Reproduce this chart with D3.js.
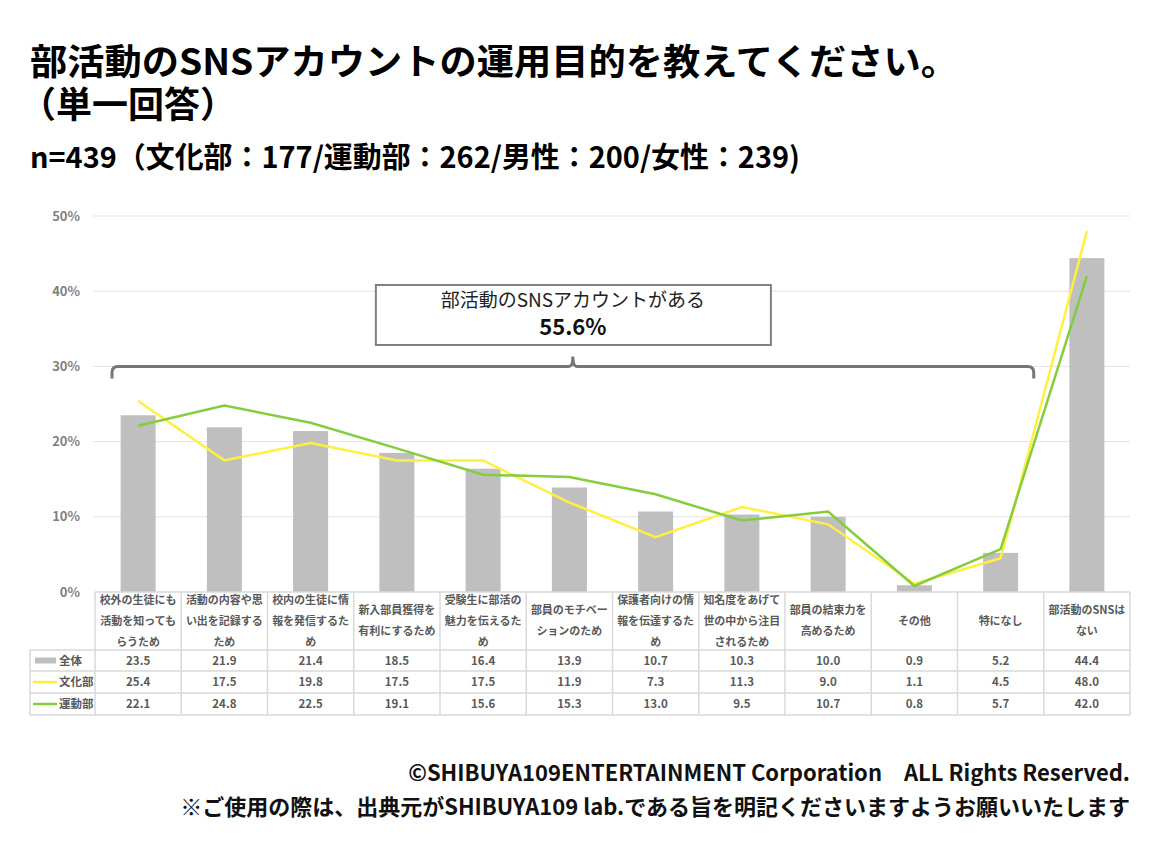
<!DOCTYPE html>
<html><head><meta charset="utf-8">
<script src="https://cdn.jsdelivr.net/npm/d3@7"></script>
<style>
html,body{margin:0;padding:0;background:#fff;}
svg{display:block;font-family:"Noto Sans CJK JP","Noto Sans",sans-serif;}
</style></head>
<body><svg id="c" width="1160" height="860"></svg>
<script>
const categories = [
  ["校外の生徒にも","活動を知っても","らうため"],
  ["活動の内容や思","い出を記録する","ため"],
  ["校内の生徒に情","報を発信するた","め"],
  ["新入部員獲得を","有利にするため"],
  ["受験生に部活の","魅力を伝えるた","め"],
  ["部員のモチベー","ションのため"],
  ["保護者向けの情","報を伝達するた","め"],
  ["知名度をあげて","世の中から注目","されるため"],
  ["部員の結束力を","高めるため"],
  ["その他"],
  ["特になし"],
  ["部活動のSNSは","ない"]
];
const seriesNames = ["全体","文化部","運動部"];
const totalValues = [23.5,21.9,21.4,18.5,16.4,13.9,10.7,10.3,10.0,0.9,5.2,44.4];
const cultureValues = [25.4,17.5,19.8,17.5,17.5,11.9,7.3,11.3,9.0,1.1,4.5,48.0];
const sportsValues = [22.1,24.8,22.5,19.1,15.6,15.3,13.0,9.5,10.7,0.8,5.7,42.0];
const yTicks = [0,10,20,30,40,50];
const bracketValue = 30;
const bracketLabel = "部活動のSNSアカウントがある";
const bracketTotal = "55.6%";

const svg = d3.select("#c");
const x = d3.scaleBand().domain(d3.range(categories.length)).range([95,1130]);
const y = d3.scaleLinear().domain([0,50]).range([592,216]);

// titles (two lines in one text element)
const title = svg.append("text").attr("font-size",36).attr("font-weight","bold").attr("fill","#000");
title.append("tspan").attr("x",30).attr("y",75)
  .attr("textLength",928).attr("lengthAdjust","spacingAndGlyphs")
  .text("部活動のSNSアカウントの運用目的を教えてください。");
title.append("tspan").attr("x",20).attr("y",118).text("（単一回答）");
svg.append("text").attr("x",30).attr("y",168).attr("font-size",29).attr("font-weight","bold").attr("fill","#000")
  .attr("textLength",770).attr("lengthAdjust","spacingAndGlyphs")
  .text("n=439（文化部：177/運動部：262/男性：200/女性：239)");

// grid
const gridG = svg.append("g");
gridG.selectAll("line").data(yTicks.filter(d=>d>0)).join("line")
  .attr("x1",93).attr("x2",1130).attr("y1",d=>y(d)).attr("y2",d=>y(d))
  .attr("stroke","#e3e3e3").attr("stroke-width",1);
// y axis labels
const yAxis = d3.axisLeft(y).tickValues(yTicks).tickFormat(d=>d+"%").tickSize(0).tickPadding(0);
const ya = svg.append("g").attr("transform","translate(80,0)").call(yAxis);
ya.select(".domain").remove();
ya.selectAll("text").attr("font-size",13).attr("font-weight","bold").attr("fill","#7f7f7f")
  .attr("font-family","'Noto Sans CJK JP',sans-serif");

// bars
const bw = 35;
svg.append("g").selectAll("rect").data(totalValues).join("rect")
  .attr("x",(d,i)=>x(i)+x.bandwidth()/2-bw/2).attr("width",bw)
  .attr("y",d=>y(d)).attr("height",d=>y(0)-y(d)).attr("fill","#bfbfbf");

// lines
const lineGen = d3.line().x((d,i)=>x(i)+x.bandwidth()/2).y(d=>y(d));
svg.append("path").datum(cultureValues).attr("d",lineGen).attr("fill","none")
  .attr("stroke","#fff03f").attr("stroke-width",2.5);
svg.append("path").datum(sportsValues).attr("d",lineGen).attr("fill","none")
  .attr("stroke","#85cc3f").attr("stroke-width",2.5);

// bracket
const bx1 = x(0)+17, bx2 = x(10)+x.bandwidth()-10, by = y(bracketValue), bm = (bx1+bx2)/2;
const r = 6;
const bp = d3.path();
bp.moveTo(bx1, by+12);
bp.lineTo(bx1, by+r);
bp.quadraticCurveTo(bx1, by, bx1+r, by);
bp.lineTo(bm-4, by);
bp.quadraticCurveTo(bm, by, bm, by-10);
bp.quadraticCurveTo(bm, by, bm+4, by);
bp.lineTo(bx2-r, by);
bp.quadraticCurveTo(bx2, by, bx2, by+r);
bp.lineTo(bx2, by+12);
svg.append("path").attr("d",bp.toString()).attr("fill","none").attr("stroke","#767676").attr("stroke-width",3);
svg.append("rect").attr("x",bm-197).attr("y",285).attr("width",395).attr("height",60)
  .attr("fill","#fff").attr("stroke","#808080").attr("stroke-width",2);
svg.append("text").attr("x",bm).attr("y",307).attr("text-anchor","middle").attr("font-size",19)
  .attr("fill","#222").text(bracketLabel);
svg.append("text").attr("x",bm).attr("y",335).attr("text-anchor","middle").attr("font-size",22)
  .attr("font-weight","bold").attr("fill","#111").text(bracketTotal);

// table
const tLeft = 30, tRight = 1130, tTop = 592, hBottom = 650;
const rowEdges = [hBottom, 671, 693, 715];
const tg = svg.append("g");
const gridColor = "#d9d9d9";
[tTop].concat(rowEdges).forEach((yy,k)=>{
  tg.append("line").attr("x1",k===0?95:tLeft).attr("x2",tRight).attr("y1",yy).attr("y2",yy)
    .attr("stroke",gridColor).attr("stroke-width",1.5);
});
tg.append("line").attr("x1",tLeft).attr("x2",tLeft).attr("y1",hBottom).attr("y2",715).attr("stroke",gridColor).attr("stroke-width",1.5);
d3.range(categories.length+1).forEach(i=>{
  const xx = i<categories.length ? x(i) : x(categories.length-1)+x.bandwidth();
  tg.append("line").attr("x1",xx).attr("x2",xx).attr("y1",tTop).attr("y2",715).attr("stroke",gridColor).attr("stroke-width",1.5);
});
categories.forEach((lines,i)=>{
  const cx = x(i)+x.bandwidth()/2;
  const n = lines.length;
  const mid = (tTop+hBottom)/2;
  lines.forEach((ln,k)=>{
    tg.append("text").attr("x",cx).attr("y",mid+(k-(n-1)/2)*21).attr("dy","0.35em")
      .attr("text-anchor","middle").attr("font-size",11).attr("font-weight","bold").attr("fill","#595959").text(ln);
  });
});
const rows = [totalValues,cultureValues,sportsValues];
rows.forEach((vals,r)=>{
  const cy = (rowEdges[r]+rowEdges[r+1])/2;
  vals.forEach((v,i)=>{
    tg.append("text").attr("x",x(i)+x.bandwidth()/2).attr("y",cy).attr("dy","0.35em")
      .attr("text-anchor","middle").attr("font-size",11.5).attr("font-weight","bold").attr("fill","#595959")
      .text(v.toFixed(1));
  });
  if(r===0){
    tg.append("rect").attr("x",35).attr("y",cy-3).attr("width",21).attr("height",6).attr("fill","#bfbfbf");
  } else {
    tg.append("line").attr("x1",33).attr("x2",57).attr("y1",cy).attr("y2",cy)
      .attr("stroke",r===1?"#fff03f":"#85cc3f").attr("stroke-width",2.5);
  }
  tg.append("text").attr("x",59).attr("y",cy).attr("dy","0.35em").attr("font-size",11.5)
    .attr("font-weight","bold").attr("fill","#595959").text(seriesNames[r]);
});

// footer
svg.append("text").attr("x",1130).attr("y",781).attr("text-anchor","end").attr("font-size",22)
  .attr("font-weight","bold").attr("fill","#111")
  .text("©SHIBUYA109ENTERTAINMENT Corporation　ALL Rights Reserved.");
svg.append("text").attr("x",1130).attr("y",815).attr("text-anchor","end").attr("font-size",22)
  .attr("font-weight","bold").attr("fill","#111")
  .text("※ご使用の際は、出典元がSHIBUYA109 lab.である旨を明記くださいますようお願いいたします");
</script></body></html>
